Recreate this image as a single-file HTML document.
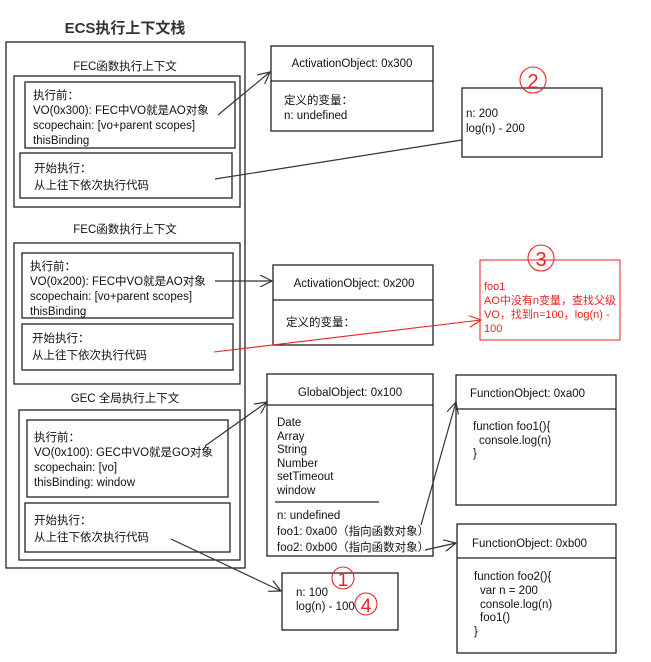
<!DOCTYPE html>
<html><head><meta charset="utf-8"><style>
body{margin:0;background:#fff}
svg{display:block}
text{font-family:"Liberation Sans","Noto Sans CJK SC",sans-serif;font-size:11.5px;fill:#111}
.b{fill:none;stroke:#222;stroke-width:1.3}
.l{stroke:#333;stroke-width:1.2;fill:none}
.r{stroke:#e22;stroke-width:1.1;fill:none}
.rt{fill:#e22;font-size:11px}
</style></head><body>
<svg width="651" height="662" viewBox="0 0 651 662">
<defs>
<marker id="a" markerWidth="14" markerHeight="12" refX="12" refY="6" orient="auto" markerUnits="userSpaceOnUse"><path d="M0,0 L12,6 L0,12" fill="none" stroke="#333" stroke-width="1.2"/></marker>
<marker id="ar" markerWidth="14" markerHeight="12" refX="12" refY="6" orient="auto" markerUnits="userSpaceOnUse"><path d="M0,0 L12,6 L0,12" fill="none" stroke="#e22" stroke-width="1.1"/></marker>
</defs>
<text x="125" y="33" text-anchor="middle" style="font-size:15px;font-weight:bold;fill:#333">ECS执行上下文栈</text>
<rect class="b" x="6" y="42" width="239" height="526"/>
<text x="125" y="70" text-anchor="middle">FEC函数执行上下文</text>
<rect class="b" x="14" y="76" width="226" height="131"/>
<rect class="b" x="25" y="82" width="210" height="66"/>
<text x="33" y="99">执行前：</text><text x="33" y="114">VO(0x300): FEC中VO就是AO对象</text><text x="33" y="129">scopechain: [vo+parent scopes]</text><text x="33" y="144">thisBinding</text>
<rect class="b" x="20" y="153" width="212" height="45"/>
<text x="34" y="172">开始执行：</text><text x="34" y="189">从上往下依次执行代码</text>
<text x="125" y="233" text-anchor="middle">FEC函数执行上下文</text>
<rect class="b" x="14" y="243" width="226" height="141"/>
<rect class="b" x="22" y="253" width="211" height="65"/>
<text x="30" y="270">执行前：</text><text x="30" y="285">VO(0x200): FEC中VO就是AO对象</text><text x="30" y="300">scopechain: [vo+parent scopes]</text><text x="30" y="315">thisBinding</text>
<rect class="b" x="22" y="324" width="211" height="46"/>
<text x="32" y="342">开始执行：</text><text x="32" y="359">从上往下依次执行代码</text>
<text x="125" y="402" text-anchor="middle">GEC 全局执行上下文</text>
<rect class="b" x="19" y="410" width="221" height="150"/>
<rect class="b" x="27" y="420" width="201" height="77"/>
<text x="34" y="441">执行前：</text><text x="34" y="456">VO(0x100): GEC中VO就是GO对象</text><text x="34" y="471">scopechain: [vo]</text><text x="34" y="486">thisBinding: window</text>
<rect class="b" x="25" y="503" width="205" height="49"/>
<text x="34" y="524">开始执行：</text><text x="34" y="541">从上往下依次执行代码</text>

<rect class="b" x="271" y="46" width="162" height="85"/><line class="b" x1="271" y1="81" x2="433" y2="81"/>
<text x="352" y="67" text-anchor="middle">ActivationObject: 0x300</text>
<text x="284" y="104">定义的变量：</text><text x="284" y="119">n: undefined</text>

<rect class="b" x="462" y="88" width="140" height="69"/>
<text x="466" y="117">n: 200</text><text x="466" y="132">log(n) - 200</text>
<circle class="r" cx="533" cy="80" r="13"/><text x="533" y="88" text-anchor="middle" style="fill:#e22;font-size:20px">2</text>

<rect class="b" x="273" y="265" width="160" height="80"/><line class="b" x1="273" y1="300" x2="433" y2="300"/>
<text x="354" y="287" text-anchor="middle">ActivationObject: 0x200</text>
<text x="286" y="326">定义的变量：</text>

<rect x="480" y="260" width="140" height="80" fill="none" stroke="#e22" stroke-width="1"/>
<circle class="r" cx="541" cy="258" r="13"/><text x="541" y="266" text-anchor="middle" style="fill:#e22;font-size:20px">3</text>
<text x="484" y="290" class="rt">foo1</text><text x="484" y="304" class="rt">AO中没有n变量，查找父级</text><text x="484" y="318" class="rt">VO，找到n=100，log(n) -</text><text x="484" y="332" class="rt">100</text>

<rect class="b" x="267" y="374" width="166" height="182"/><line class="b" x1="267" y1="405" x2="433" y2="405"/>
<text x="350" y="396" text-anchor="middle">GlobalObject: 0x100</text>
<text x="277" y="426">Date</text><text x="277" y="440">Array</text><text x="277" y="453">String</text><text x="277" y="467">Number</text><text x="277" y="480">setTimeout</text><text x="277" y="494">window</text>
<line class="b" x1="275" y1="502" x2="379" y2="502"/>
<text x="277" y="519">n: undefined</text><text x="277" y="535">foo1: 0xa00（指向函数对象）</text><text x="277" y="551">foo2: 0xb00（指向函数对象）</text>

<rect class="b" x="456" y="375" width="160" height="130"/><line class="b" x1="456" y1="409" x2="616" y2="409"/>
<text x="470" y="397">FunctionObject: 0xa00</text>
<text x="473" y="430">function foo1(){</text><text x="479" y="444">console.log(n)</text><text x="473" y="457">}</text>

<rect class="b" x="457" y="524" width="159" height="129"/><line class="b" x1="457" y1="558" x2="616" y2="558"/>
<text x="472" y="547">FunctionObject: 0xb00</text>
<text x="474" y="580">function foo2(){</text><text x="480" y="594">var n = 200</text><text x="480" y="608">console.log(n)</text><text x="480" y="621">foo1()</text><text x="474" y="635">}</text>

<rect class="b" x="282" y="573" width="116" height="57"/>
<text x="296" y="596">n: 100</text><text x="296" y="610">log(n) - 100</text>
<circle class="r" cx="343" cy="578" r="11"/><text x="343" y="586" text-anchor="middle" style="fill:#e22;font-size:19px">1</text>
<circle class="r" cx="366" cy="604" r="11"/><text x="366" y="612" text-anchor="middle" style="fill:#e22;font-size:19px">4</text>

<line class="l" x1="218" y1="115" x2="270" y2="72" marker-end="url(#a)"/>
<line class="l" x1="215" y1="179" x2="462" y2="140"/>
<line class="l" x1="215" y1="281" x2="272" y2="281" marker-end="url(#a)"/>
<line class="r" x1="214" y1="352" x2="481" y2="320" marker-end="url(#ar)"/>
<line class="l" x1="205" y1="446" x2="267" y2="402" marker-end="url(#a)"/>
<line class="l" x1="171" y1="539" x2="281" y2="591" marker-end="url(#a)"/>
<line class="l" x1="421" y1="525" x2="456" y2="402" marker-end="url(#a)"/>
<line class="l" x1="425" y1="550" x2="456" y2="543" marker-end="url(#a)"/>
</svg>
</body></html>
